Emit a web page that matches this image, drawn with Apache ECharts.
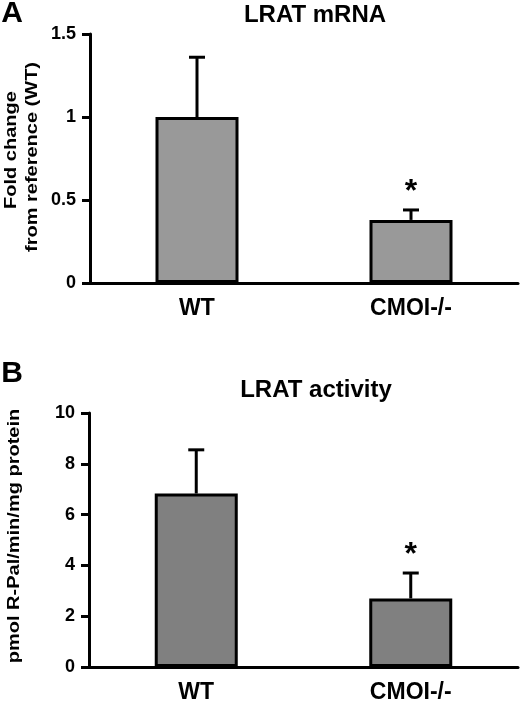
<!DOCTYPE html>
<html><head><meta charset="utf-8">
<script src="https://cdn.jsdelivr.net/npm/echarts@6/dist/echarts.min.js"></script>
<style>html,body{margin:0;padding:0;background:#fff}#c{width:521px;height:712px}</style>
</head><body><div id="c"></div>
<script>
const categories = ['WT', 'CMOI-/-'];
const mrnaValues = [1.0, 0.38];
const mrnaErrors = [0.36, 0.06];
const mrnaTicks = [0, 0.5, 1, 1.5];
const activityValues = [6.83, 2.70];
const activityErrors = [1.72, 1.0];
const activityTicks = [0, 2, 4, 6, 8, 10];
const significance = ['', '*'];
const titles = ['LRAT mRNA', 'LRAT activity'];
const panelLetters = ['A', 'B'];
const yNamesA = ['Fold change', 'from reference (WT)'];
const yNamesB = ['pmol R-Pal/min/mg protein'];

const FONT = '"Liberation Sans", Arial, sans-serif';
const chart = echarts.init(document.getElementById('c'), null, {renderer: 'canvas'});

function xAxisDef(gi) {
  return {
    type: 'category', gridIndex: gi, data: categories,
    axisLine: {lineStyle: {color: '#000', width: 3}},
    axisTick: {show: false},
    axisLabel: {color: '#000', fontFamily: FONT, fontWeight: 'bold', fontSize: 23, margin: 14}
  };
}
function yAxisDef(gi, ticks) {
  return {
    type: 'value', gridIndex: gi, min: ticks[0], max: ticks[ticks.length - 1],
    interval: ticks[1] - ticks[0],
    splitLine: {show: false},
    axisLine: {show: true, lineStyle: {color: '#000', width: 3}},
    axisTick: {show: true, inside: false, length: 8, lineStyle: {color: '#000', width: 3}},
    axisLabel: {color: '#000', fontFamily: FONT, fontWeight: 'bold', fontSize: 18, margin: 14}
  };
}
function barSeries(gi, vals, fill) {
  return {
    type: 'bar', xAxisIndex: gi, yAxisIndex: gi, data: vals, barWidth: 83,
    itemStyle: {color: fill, borderColor: '#000', borderWidth: 3},
    silent: true, z: 2
  };
}
function errorSeries(gi, vals, errs) {
  return {
    type: 'custom', xAxisIndex: gi, yAxisIndex: gi, z: 3, silent: true,
    data: vals.map((v, i) => [i, v, v + errs[i]]),
    renderItem(params, api) {
      const base = api.coord([api.value(0), api.value(1)]);
      const top = api.coord([api.value(0), api.value(2)]);
      const children = [
        {type: 'line', shape: {x1: base[0], y1: base[1], x2: top[0], y2: top[1]}, style: {stroke: '#000', lineWidth: 3}},
        {type: 'line', shape: {x1: top[0] - 8, y1: top[1], x2: top[0] + 8, y2: top[1]}, style: {stroke: '#000', lineWidth: 3}}
      ];
      const s = significance[params.dataIndex];
      if (s) {
        children.push({type: 'text', x: top[0], y: top[1] - 18,
          style: {text: s, font: 'bold 32px ' + FONT, fill: '#000', align: 'center', verticalAlign: 'middle'}});
      }
      return {type: 'group', children};
    }
  };
}
function txt(x, y, text, size, opts) {
  return Object.assign({type: 'text', x, y,
    style: {text, font: 'bold ' + size + 'px ' + FONT, fill: '#000', align: 'center', verticalAlign: 'middle'}}, opts || {});
}

chart.setOption({
  animation: false,
  backgroundColor: '#fff',
  grid: [
    {left: 90, right: 3, top: 34, bottom: 429},
    {left: 89, right: 3, top: 413, bottom: 45}
  ],
  xAxis: [xAxisDef(0), xAxisDef(1)],
  yAxis: [yAxisDef(0, mrnaTicks), yAxisDef(1, activityTicks)],
  series: [
    barSeries(0, mrnaValues, '#999999'),
    errorSeries(0, mrnaValues, mrnaErrors),
    barSeries(1, activityValues, '#808080'),
    errorSeries(1, activityValues, activityErrors)
  ],
  graphic: [
    txt(12, 14, panelLetters[0], 30),
    txt(315, 15, titles[0], 24),
    txt(12, 150, yNamesA[0], 16, {rotation: Math.PI / 2, scaleX: 1.25}),
    txt(33, 157, yNamesA[1], 16, {rotation: Math.PI / 2, scaleX: 1.25}),
    txt(12, 374, panelLetters[1], 30),
    txt(316, 390, titles[1], 24),
    txt(15, 536, yNamesB[0], 16, {rotation: Math.PI / 2, scaleX: 1.25})
  ]
});
</script></body></html>
